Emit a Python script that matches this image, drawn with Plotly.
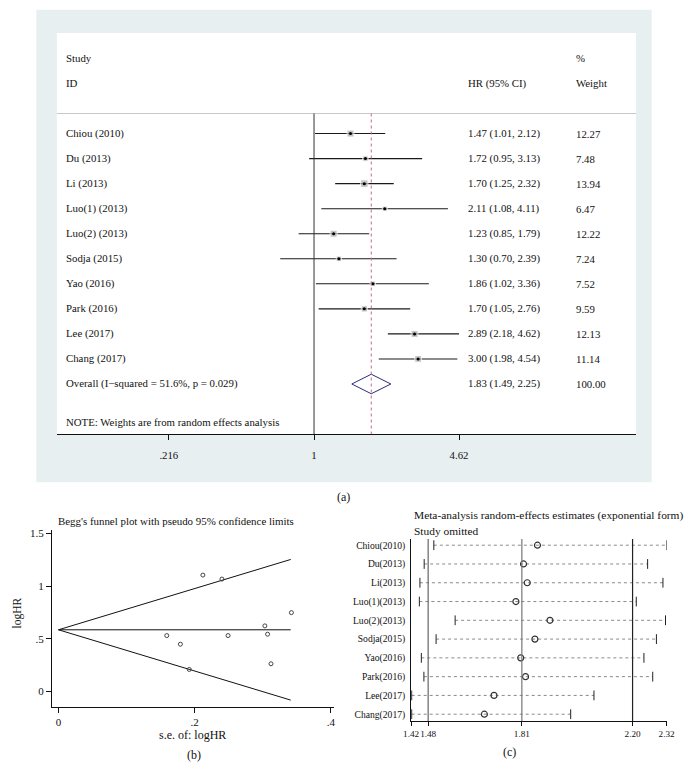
import plotly.graph_objects as go
import math

# ---------------- data: panel (a) forest plot ----------------
studies = ["Chiou (2010)", "Du (2013)", "Li (2013)", "Luo(1) (2013)", "Luo(2) (2013)",
           "Sodja (2015)", "Yao (2016)", "Park (2016)", "Lee (2017)", "Chang (2017)"]
hr = [1.47, 1.72, 1.70, 2.11, 1.23, 1.30, 1.86, 1.70, 2.89, 3.00]
hr_lo = [1.01, 0.95, 1.25, 1.08, 0.85, 0.70, 1.02, 1.05, 2.18, 1.98]
hr_hi = [2.12, 3.13, 2.32, 4.11, 1.79, 2.39, 3.36, 2.76, 4.62, 4.54]
weights = [12.27, 7.48, 13.94, 6.47, 12.22, 7.24, 7.52, 9.59, 12.13, 11.14]
overall_label = "Overall (I\u2212squared = 51.6%, p = 0.029)"
overall_hr, overall_lo, overall_hi, overall_w = 1.83, 1.49, 2.25, 100.00
forest_ticks = [0.216, 1, 4.62]
forest_ticktext = [".216", "1", "4.62"]

# ---------------- data: panel (b) funnel plot ----------------
funnel_se = [0.159, 0.179, 0.192, 0.212, 0.240, 0.249, 0.303, 0.307, 0.312, 0.342]
funnel_loghr = [0.530, 0.448, 0.208, 1.105, 1.067, 0.530, 0.622, 0.543, 0.262, 0.748]
funnel_pooled = 0.585
funnel_se_max = 0.341
funnel_xticks = [0, 0.2, 0.4]
funnel_xtext = ["0", ".2", ".4"]
funnel_yticks = [0, 0.5, 1, 1.5]
funnel_ytext = ["0", ".5", "1", "1.5"]

# ---------------- data: panel (c) sensitivity analysis ----------------
omitted = ["Chiou(2010)", "Du(2013)", "Li(2013)", "Luo(1)(2013)", "Luo(2)(2013)",
           "Sodja(2015)", "Yao(2016)", "Park(2016)", "Lee(2017)", "Chang(2017)"]
omit_est = [1.865, 1.816, 1.829, 1.789, 1.909, 1.856, 1.806, 1.823, 1.712, 1.678]
omit_lo = [1.500, 1.466, 1.451, 1.449, 1.575, 1.508, 1.456, 1.465, 1.422, 1.422]
omit_hi = [2.320, 2.253, 2.307, 2.213, 2.316, 2.284, 2.240, 2.271, 2.064, 1.982]
ref_lines = [1.48, 1.81, 2.20]
sens_ticks = [1.42, 1.48, 1.81, 2.20, 2.32]

# ---------------- layout helpers ----------------
W, H = 689, 777
FONT = "Liberation Serif"


def px(x):
    return x / W


def py(y):
    return 1 - y / H


fig = go.Figure()

# ---- panel (a) ----
rows = list(range(len(studies)))
overall_row = len(studies)
for i in rows:
    fig.add_trace(go.Scatter(x=[hr_lo[i], hr_hi[i]], y=[i, i], mode="lines",
                             line=dict(color="#1a1a1a", width=1.1), hoverinfo="skip",
                             showlegend=False, xaxis="x", yaxis="y"))
fig.add_trace(go.Scatter(x=hr, y=rows, mode="markers",
                         marker=dict(symbol="square", color="#ababab",
                                     size=[2.0 * math.sqrt(w) for w in weights]),
                         showlegend=False, xaxis="x", yaxis="y"))
fig.add_trace(go.Scatter(x=hr, y=rows, mode="markers",
                         marker=dict(symbol="circle", color="#000", size=3),
                         showlegend=False, xaxis="x", yaxis="y"))
dh = 0.39
fig.add_trace(go.Scatter(x=[overall_lo, overall_hr, overall_hi, overall_hr, overall_lo],
                         y=[overall_row, overall_row - dh, overall_row, overall_row + dh, overall_row],
                         mode="lines", fill="toself", fillcolor="white",
                         line=dict(color="#2b2b7e", width=1), showlegend=False,
                         xaxis="x", yaxis="y"))

# ---- panel (b) ----
fig.add_trace(go.Scatter(x=[0, funnel_se_max], y=[funnel_pooled, funnel_pooled], mode="lines",
                         line=dict(color="#111", width=1), showlegend=False,
                         xaxis="x2", yaxis="y2"))
fig.add_trace(go.Scatter(x=[0, funnel_se_max], y=[funnel_pooled, funnel_pooled + 1.96 * funnel_se_max],
                         mode="lines", line=dict(color="#111", width=1), showlegend=False,
                         xaxis="x2", yaxis="y2"))
fig.add_trace(go.Scatter(x=[0, funnel_se_max], y=[funnel_pooled, funnel_pooled - 1.96 * funnel_se_max],
                         mode="lines", line=dict(color="#111", width=1), showlegend=False,
                         xaxis="x2", yaxis="y2"))
fig.add_trace(go.Scatter(x=funnel_se, y=funnel_loghr, mode="markers",
                         marker=dict(symbol="circle-open", size=4, color="#444",
                                     line=dict(width=1)),
                         showlegend=False, xaxis="x2", yaxis="y2"))

# ---- panel (c) ----
for i in range(len(omitted)):
    fig.add_trace(go.Scatter(x=[omit_lo[i], omit_hi[i]], y=[i, i], mode="lines",
                             line=dict(color="#8a8a8a", width=1, dash="dot"),
                             showlegend=False, xaxis="x3", yaxis="y3"))
caps_x = omit_lo + omit_hi
caps_y = list(range(len(omitted))) * 2
fig.add_trace(go.Scatter(x=caps_x, y=caps_y, mode="markers",
                         marker=dict(symbol="line-ns", size=7, color="#222",
                                     line=dict(width=1, color="#222")),
                         showlegend=False, xaxis="x3", yaxis="y3"))
fig.add_trace(go.Scatter(x=omit_est, y=list(range(len(omitted))), mode="markers",
                         marker=dict(symbol="circle-open", size=6, color="#333",
                                     line=dict(width=1.2)),
                         showlegend=False, xaxis="x3", yaxis="y3"))

# ---------------- shapes ----------------
shapes = [
    dict(type="rect", xref="paper", yref="paper", x0=px(29), x1=px(659), y0=py(481), y1=py(6.7),
         fillcolor="#e8eff1", line=dict(width=0), layer="below"),
    dict(type="rect", xref="paper", yref="paper", x0=px(50), x1=px(643), y0=py(433), y1=py(30),
         fillcolor="white", line=dict(width=0), layer="below"),
    dict(type="line", xref="x domain", yref="y", x0=0, x1=1, y0=-0.8, y1=-0.8,
         line=dict(color="#c8c8c8", width=1)),
    dict(type="line", xref="x", yref="y", x0=1, x1=1, y0=-0.8, y1=12.01,
         line=dict(color="#333", width=1)),
    dict(type="line", xref="x", yref="y", x0=overall_hr, x1=overall_hr, y0=-0.8, y1=12.01,
         line=dict(color="#c0707f", width=1, dash="3px,3px")),
]
ref_colors = ["#666", "#777", "#222"]
for v, c in zip(ref_lines, ref_colors):
    shapes.append(dict(type="line", xref="x3", yref="y3 domain", x0=v, x1=v, y0=0, y1=1,
                       line=dict(color=c, width=1.2)))

# ---------------- annotations ----------------
ann = []
fa = dict(family=FONT, size=10.8, color="#111")


def add(text, x, y, xref="paper", yref="paper", xanchor="left", font=fa, **kw):
    ann.append(dict(text=text, x=x, y=y, xref=xref, yref=yref, xanchor=xanchor,
                    yanchor="middle", showarrow=False, font=font, **kw))


add("Study", px(57.5), -3, yref="y")
add("ID", px(57.5), -2, yref="y")
add("HR (95% CI)", px(469), -2, yref="y")
add("%", px(579), -3, yref="y")
add("Weight", px(579), -2, yref="y")
for i, s in enumerate(studies):
    add(s, px(57.5), i, yref="y")
    add(f"{hr[i]:.2f} ({hr_lo[i]:.2f}, {hr_hi[i]:.2f})", px(469), i, yref="y")
    add(f"{weights[i]:.2f}", px(579), i, yref="y")
add(overall_label, px(57.5), overall_row, yref="y")
add(f"{overall_hr:.2f} ({overall_lo:.2f}, {overall_hi:.2f})", px(469), overall_row, yref="y")
add(f"{overall_w:.2f}", px(579), overall_row, yref="y")
add("NOTE: Weights are from random effects analysis", px(57.5), overall_row + 1.5, yref="y")

fl = dict(family=FONT, size=12, color="#111")
add("(a)", px(343), py(495.5), xanchor="center", font=fl)
add("(b)", px(190), py(755), xanchor="center", font=fl)
add("(c)", px(513), py(752), xanchor="center", font=fl)

add("Begg's funnel plot with pseudo 95% confidence limits", px(49.5), py(520.5),
    font=dict(family=FONT, size=10.9, color="#111"))
add("s.e. of: logHR", px(189), py(735), xanchor="center", font=dict(family=FONT, size=12, color="#111"))
add("logHR", px(10), py(612), xanchor="center", font=dict(family=FONT, size=11.5, color="#111"),
    textangle=-90)

add("Meta-analysis random-effects estimates (exponential form)", px(413.5), py(514.5),
    font=dict(family=FONT, size=11.4, color="#111"))
add("Study omitted", px(413.5), py(530.5), font=dict(family=FONT, size=11.4, color="#111"))

axis_common = dict(showgrid=False, zeroline=False, showline=True, linecolor="#111",
                   linewidth=1, ticks="outside", tickcolor="#111", fixedrange=True)

fig.update_layout(
    width=W, height=H, margin=dict(l=0, r=0, t=0, b=0),
    paper_bgcolor="white", plot_bgcolor="rgba(0,0,0,0)",
    font=dict(family=FONT, color="#111"),
    shapes=shapes, annotations=ann, showlegend=False,
    xaxis=dict(axis_common, type="log", domain=[px(50), px(643)],
               range=[-1.1789, 1.4762], anchor="y",
               tickvals=forest_ticks, ticktext=forest_ticktext, ticklen=5,
               tickfont=dict(family=FONT, size=10.8), ticklabelstandoff=6),
    yaxis=dict(domain=[py(433), py(30)], range=[12.01, -4.02], visible=False,
               anchor="x", fixedrange=True),
    xaxis2=dict(axis_common, domain=[px(45), px(333.3)], range=[-0.0096, 0.4039], anchor="y2",
                tickvals=funnel_xticks, ticktext=funnel_xtext, ticklen=5, tickangle=0,
                tickfont=dict(family=FONT, size=11)),
    yaxis2=dict(axis_common, domain=[py(706.7), py(529.3)], range=[-0.1487, 1.531], anchor="x2",
                tickvals=funnel_yticks, ticktext=funnel_ytext, ticklen=5, tickangle=0,
                tickfont=dict(family=FONT, size=11)),
    xaxis3=dict(axis_common, domain=[px(412.7), px(674.3)], range=[1.42, 2.32], anchor="y3",
                tickvals=sens_ticks, ticktext=[f"{v:.2f}" for v in sens_ticks], ticklen=4,
                tickangle=0, tickfont=dict(family=FONT, size=9.2)),
    yaxis3=dict(axis_common, domain=[py(720.7), py(538)], range=[9.358, -0.334], anchor="x3",
                tickvals=list(range(len(omitted))), ticktext=omitted, ticks="",
                tickfont=dict(family=FONT, size=9.6), ticklabelstandoff=3),
)

fig.write_html("out.html", config={"displayModeBar": False},
               post_script="document.body.style.margin='0';document.body.style.padding='0';")
